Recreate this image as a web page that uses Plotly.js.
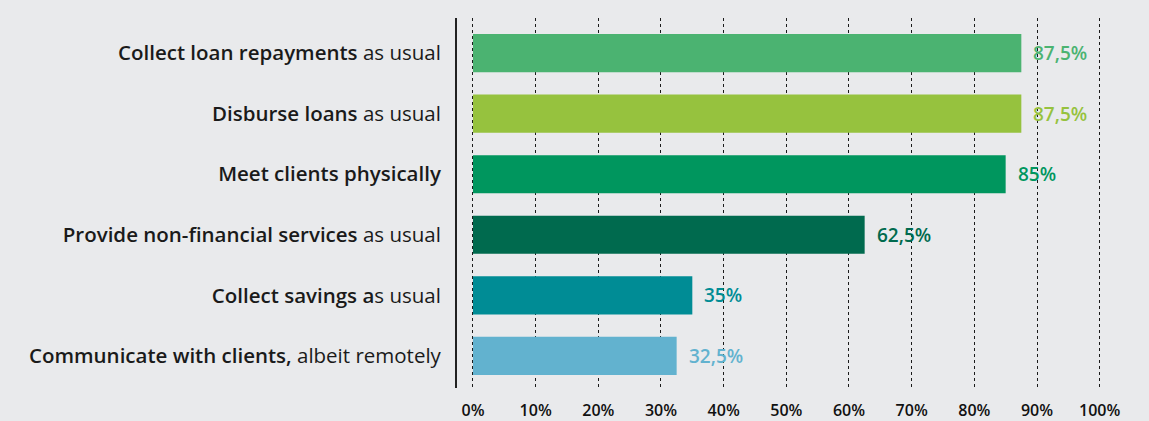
<!DOCTYPE html>
<html>
<head>
<meta charset="utf-8">
<script src="https://cdn.plot.ly/plotly-3.0.1.min.js"></script>
<style>
html,body{margin:0;padding:0;background:#e9eaec;}
#chart{width:1149px;height:421px;}
</style>
</head>
<body>
<div id="chart"></div>
<script>
// Data (top to bottom as in the reference)
const boldParts = [
  "Collect loan repayments",
  "Disburse loans",
  "Meet clients physically",
  "Provide non-financial services",
  "Collect savings a",
  "Communicate with clients,"
];
const plainParts = [
  " as usual",
  " as usual",
  "",
  " as usual",
  "s usual",
  " albeit remotely"
];
const values = [87.5, 87.5, 85, 62.5, 35, 32.5];
const barColors = ["#4bb371", "#96c23e", "#00965e", "#006a4e", "#008c95", "#62b2cf"];
const xTickVals = [0, 10, 20, 30, 40, 50, 60, 70, 80, 90, 100];

const FONT = "'Open Sans', 'DejaVu Sans', sans-serif";
const cats = boldParts.map((b, i) => "c" + i);
const tickText = boldParts.map((b, i) =>
  "<span style=\"font-weight:600\">" + b + "</span>" + plainParts[i]);
const valueText = values.map(v => String(v).replace(".", ",") + "%");

// reverse so first item is on top
const yCats = cats.slice().reverse();

const trace = {
  type: "bar",
  orientation: "h",
  x: values.slice().reverse(),
  y: yCats,
  marker: {color: barColors.slice().reverse(), line: {width: 0}},
  width: 0.63,
  hoverinfo: "skip"
};

const annotations = values.map((v, i) => ({
  x: v, y: cats[i], xref: "x", yref: "y",
  text: "<span style=\"font-weight:600\">" + valueText[i] + "</span>",
  showarrow: false, xanchor: "left", yanchor: "middle",
  xshift: 10,
  font: {family: FONT, size: 19, color: barColors[i]}
}));

const layout = {
  width: 1149, height: 421,
  paper_bgcolor: "#e9eaec",
  plot_bgcolor: "#e9eaec",
  margin: {l: 457, r: 18, t: 18, b: 33, pad: 0},
  showlegend: false,
  font: {family: FONT, color: "#1a1a1a"},
  xaxis: {
    range: [-2.55, 105],
    tickvals: xTickVals,
    ticktext: xTickVals.map(v => v + "%"),
    showgrid: true,
    gridcolor: "#1a1a1a",
    gridwidth: 1,
    griddash: "dot",
    zeroline: false,
    showline: false,
    ticks: "",
    ticklabelstandoff: 11,
    tickfont: {size: 16, color: "#111", weight: 600},
    fixedrange: true
  },
  yaxis: {
    type: "category",
    categoryorder: "array",
    categoryarray: yCats,
    range: [-0.53, 5.58],
    autorange: false,
    tickvals: cats,
    ticktext: tickText,
    showgrid: false,
    zeroline: false,
    showline: true,
    linecolor: "#222",
    linewidth: 2,
    ticks: "",
    ticklabelstandoff: 10,
    tickfont: {size: 20.5, color: "#1a1a1a"},
    fixedrange: true
  },
  annotations: annotations
};

Plotly.newPlot("chart", [trace], layout, {displayModeBar: false, staticPlot: true});
</script>
</body>
</html>
